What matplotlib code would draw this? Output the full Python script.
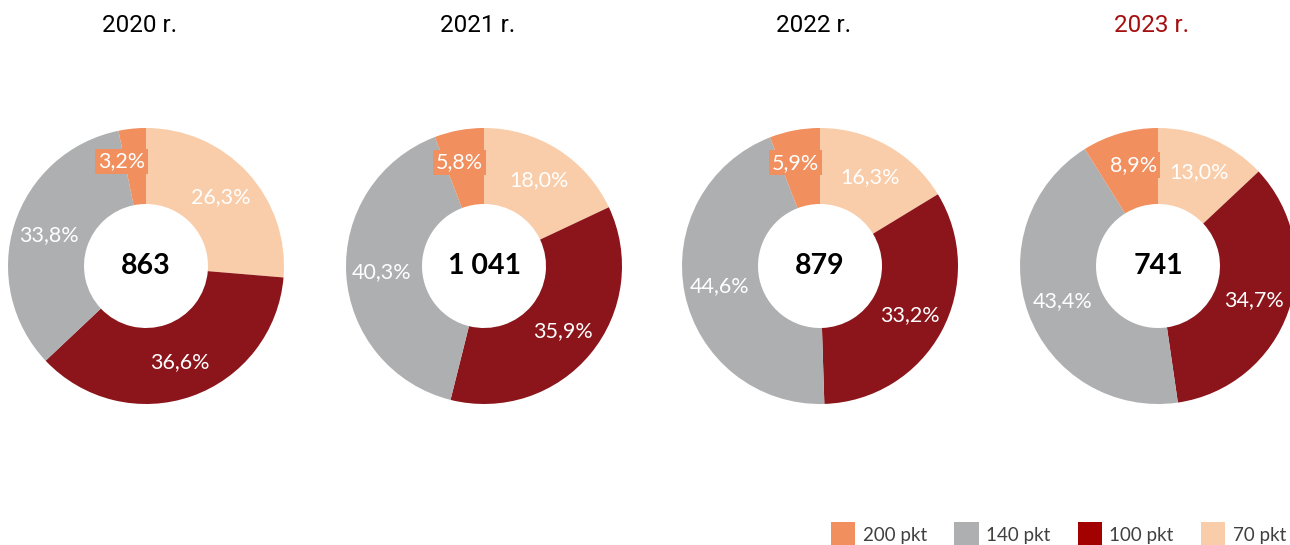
import matplotlib.pyplot as plt
from matplotlib.patches import Patch

years = ['2020 r.', '2021 r.', '2022 r.', '2023 r.']
totals = ['863', '1 041', '879', '741']
categories = ['70 pkt', '100 pkt', '140 pkt', '200 pkt']

# shares in %, clockwise from 12 o'clock: 70, 100, 140, 200 pkt
shares = [
    [26.3, 36.6, 33.8, 3.2],
    [18.0, 35.9, 40.3, 5.8],
    [16.3, 33.2, 44.6, 5.9],
    [13.0, 34.7, 43.4, 8.9],
]

wedge_colors = ['#F9CDA9', '#8B151B', '#AEAFB1', '#F18F5E']
legend_colors = ['#F18F5E', '#AEAFB1', '#A30000', '#F9CDA9']
legend_labels = ['200 pkt', '140 pkt', '100 pkt', '70 pkt']
title_colors = ['#000000', '#000000', '#000000', '#A50F0F']

centers_x = [146, 484, 820, 1158]
center_y = 279
outer_r = 138
ring_w = 76

fig = plt.figure(figsize=(12.9, 5.45), dpi=100)
ax = fig.add_axes([0, 0, 1, 1])

for i, vals in enumerate(shares):
    cx = centers_x[i]
    labels = [f'{v:.1f}'.replace('.', ',') + '%' for v in vals]
    wedges, texts = ax.pie(vals, colors=wedge_colors, startangle=90, counterclock=False,
                           center=(cx, center_y), radius=outer_r, normalize=True,
                           labels=labels, labeldistance=0.74,
                           wedgeprops=dict(width=ring_w, edgecolor='none'),
                           textprops=dict(color='white', fontsize=15.5, family='Lato',
                                          va='center'))
    for t in texts[:3]:
        t.set_ha('center')
    # small 200 pkt slice: label sits on an orange box ending at the top axis
    small = texts[3]
    small.set_ha('right')
    small.set_position((cx - 1, small.get_position()[1] + 3))
    small.set_bbox(dict(facecolor=wedge_colors[3], edgecolor='none', pad=2))

    ax.text(cx, center_y, totals[i], ha='center', va='center', fontsize=20.5,
            fontweight='bold', family='Lato', color='black')
    ax.text(cx - 6, 520, years[i], ha='center', va='center', fontsize=17.5,
            family='Roboto', color=title_colors[i])

# pie() resets the limits, so fix the pixel-sized frame afterwards
ax.set_xlim(0, 1290)
ax.set_ylim(0, 545)
ax.set_aspect('equal')
ax.axis('off')

handles = [Patch(facecolor=c, edgecolor='none') for c in legend_colors]
fig.legend(handles, legend_labels, loc='lower right', bbox_to_anchor=(1.01, -0.035),
           ncol=4, frameon=False, handlelength=1.3, handleheight=1.7,
           handletextpad=0.4, columnspacing=1.45,
           prop=dict(family='Lato', size=13.5), labelcolor='#404040')

plt.savefig('out.png', dpi=100)
